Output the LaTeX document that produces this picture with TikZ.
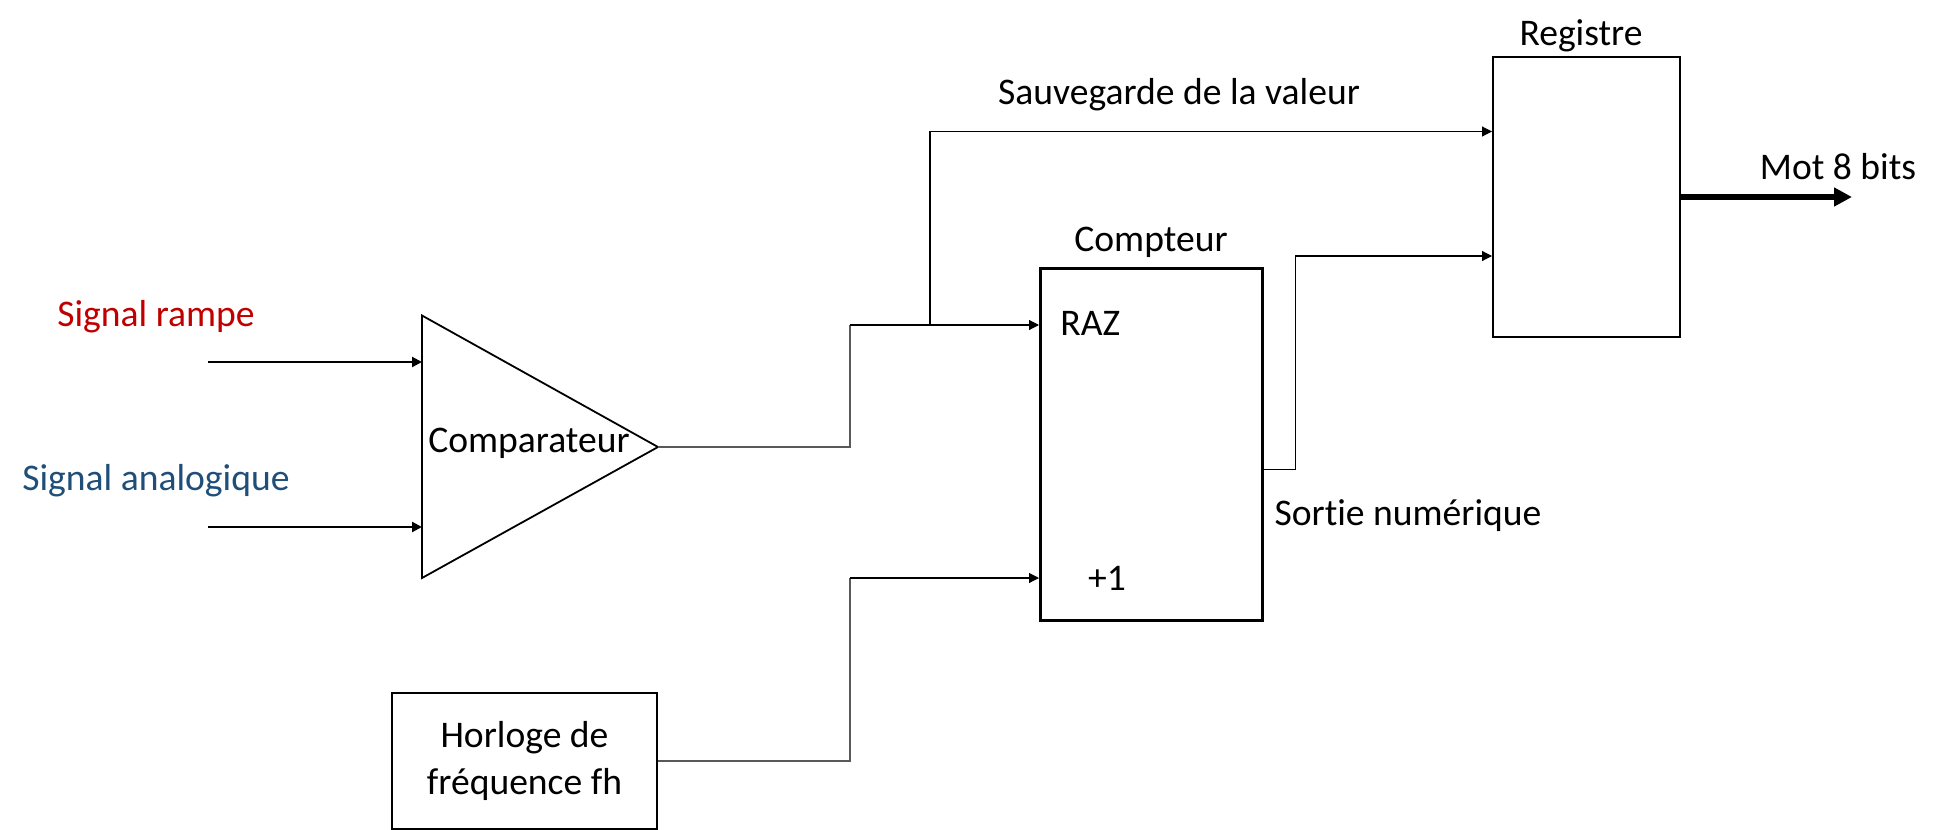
\documentclass[tikz,border=0pt]{standalone}
\usepackage{fontspec}
\setmainfont[Ligatures=NoCommon]{Carlito}
\usetikzlibrary{arrows.meta}
\definecolor{rampred}{HTML}{C00000}
\definecolor{anablue}{HTML}{1F4E79}
\definecolor{wiregray}{HTML}{595959}
\tikzset{
  lbl/.style={inner sep=0pt, font=\fontsize{18.8}{23.5}\selectfont},
  blockbox/.style={draw, rectangle, inner sep=0pt},
  wire/.style={draw=wiregray, line width=0.55pt},
  sig/.style={-{Triangle[length=5pt,width=5pt]}},
  bus/.style={line width=3pt, -{Triangle[length=9pt,width=9pt]}}
}
\begin{document}
\begin{tikzpicture}[x=0.5pt,y=-0.5pt]
\useasboundingbox (0,0) rectangle (1940,830);
% comparator triangle
\coordinate (ctl) at (422,315.5);
\coordinate (cbl) at (422,578);
\coordinate (ctip) at (658,447);
\draw[line width=0.9pt] (ctl) -- (ctip) -- (cbl) -- cycle;
\node[lbl] (cmp) at (529,443) {Comparateur};
% inputs
\coordinate (inA) at (208,362);
\coordinate (inAe) at (422,362);
\coordinate (inB) at (208,527);
\coordinate (inBe) at (422,527);
\draw[line width=1.1pt, sig] (inA) -- (inAe);
\draw[line width=1.1pt, sig] (inB) -- (inBe);
\node[lbl, text=rampred] (sr) at (156,317) {Signal rampe};
\node[lbl, text=anablue] (sa) at (156,481) {Signal analogique};
% blocks
\node[blockbox, line width=1.5pt, minimum width=110.75pt, minimum height=175.75pt] (cpt) at (1151.25,444.25) {};
\node[blockbox, line width=1pt, minimum width=93.5pt, minimum height=139.75pt] (reg) at (1586.5,196.75) {};
\node[blockbox, line width=1.25pt, minimum width=132.5pt, minimum height=68pt] (horl) at (524.5,761) {};
\node[lbl, align=center] (horlt) at (horl.center) {Horloge de\\fréquence fh};
% labels
\node[lbl] (cptl) at (1151,242) {Compteur};
\node[lbl, anchor=west] (raz) at (1060,323) {RAZ};
\node[lbl] (plus) at (1107,578) {+1};
\node[lbl] (regl) at (1581,36) {Registre};
\node[lbl] (sauv) at (1179,95) {Sauvegarde de la valeur};
\node[lbl] (sortie) at (1408,516) {Sortie numérique};
\node[lbl] (mot) at (1838,167) {Mot 8 bits};
% connectors
\coordinate (j1) at (850,325);
\coordinate (j2) at (930,325);
\draw[wire] (ctip) -| (j1);
\draw[line width=0.55pt, sig] (j1) -- (j1 -| cpt.west);
\draw[line width=0.55pt, sig] (j2) |- ([yshift=-37.75pt]reg.north west);
\coordinate (cout) at ([yshift=-101.25pt]cpt.north east);
\coordinate (j3) at (1295.5,471);
\draw[line width=0.55pt, sig] (cout) -- (cout -| j3) |- ([yshift=-100pt]reg.north west);
\coordinate (j5) at (850,578);
\draw[wire] (horl.east) -| (j5);
\draw[line width=0.55pt, sig] (j5) -- (j5 -| cpt.west);
\coordinate (motend) at (1852,197);
\draw[bus] (reg.east |- motend) -- (motend);
\end{tikzpicture}
\end{document}
